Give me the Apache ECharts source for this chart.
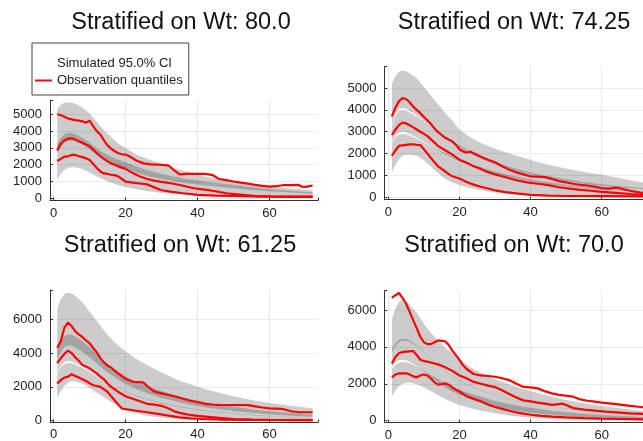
<!DOCTYPE html>
<html>
<head>
<meta charset="utf-8">
<script src="https://cdn.jsdelivr.net/npm/echarts@6/dist/echarts.min.js"></script>
<style>
  html, body { margin: 0; padding: 0; background: #ffffff; }
  #chart { width: 643px; height: 441px; }
</style>
</head>
<body>
<div id="chart"></div>
<script>
// Time points at which the simulated confidence bands are evaluated
const bandTimes = [1, 2, 3, 4, 5, 6, 8, 10, 12, 14, 16, 18, 20, 23, 26, 30, 34, 38, 42, 46, 50, 55, 60, 66, 72];

const panelTitles = ['Stratified on Wt: 80.0', 'Stratified on Wt: 74.25', 'Stratified on Wt: 61.25', 'Stratified on Wt: 70.0'];

// ---- Wt 80.0 ----
const wt80_p95Hi = [5300, 5550, 5680, 5720, 5700, 5620, 5400, 5050, 4550, 4050, 3650, 3250, 3000, 2600, 2350, 2050, 1780, 1520, 1300, 1120, 980, 840, 710, 580, 480];
const wt80_p95Lo = [2700, 3050, 3300, 3400, 3420, 3380, 3200, 2900, 2580, 2300, 2080, 1900, 1750, 1530, 1330, 1150, 1000, 870, 770, 690, 600, 500, 420, 340, 270];
const wt80_p50Hi = [3250, 3600, 3800, 3880, 3880, 3820, 3600, 3300, 2980, 2700, 2480, 2300, 2150, 1900, 1680, 1450, 1270, 1120, 1000, 900, 800, 680, 560, 450, 360];
const wt80_p50Lo = [2200, 2500, 2700, 2780, 2790, 2750, 2580, 2350, 2080, 1830, 1620, 1440, 1290, 1100, 950, 780, 640, 530, 440, 370, 310, 250, 200, 160, 130];
const wt80_p5Hi  = [2200, 2500, 2700, 2780, 2790, 2750, 2580, 2350, 2080, 1830, 1620, 1440, 1290, 1100, 950, 780, 640, 530, 440, 370, 310, 250, 200, 160, 130];
const wt80_p5Lo  = [1100, 1450, 1680, 1800, 1850, 1850, 1750, 1550, 1300, 1100, 930, 790, 680, 540, 430, 320, 250, 200, 160, 130, 110, 90, 75, 60, 50];
const wt80_obsP95 = [[1,5000],[2,4950],[3,4850],[4,4750],[5,4700],[6,4650],[7,4620],[8,4580],[9,4500],[10,4620],[11,4300],[12,4000],[13,3800],[14,3450],[15,3150],[16,2950],[17,2800],[18,2680],[19,2620],[20,2600],[21,2500],[22,2380],[23,2250],[25,2080],[27,2020],[29,2000],[31,1980],[32,1950],[33,1750],[35,1430],[37,1450],[40,1460],[42,1450],[44,1400],[46,1150],[48,1080],[50,1000],[52,930],[54,870],[56,800],[58,740],[60,700],[62,720],[64,790],[66,780],[68,800],[69,700],[70,680],[72,760]];
const wt80_obsP50 = [[1,2850],[2,3250],[3,3450],[4,3550],[5,3570],[6,3500],[7,3400],[8,3300],[9,3200],[10,3100],[11,2900],[12,2700],[13,2500],[14,2350],[15,2200],[16,2080],[17,2000],[18,1900],[20,1750],[22,1500],[24,1300],[26,1150],[28,1050],[30,980],[33,880],[36,750],[39,600],[42,520],[45,420],[48,300],[51,240],[54,180],[57,120],[60,100],[66,90],[72,80]];
const wt80_obsP5  = [[1,2220],[2,2350],[3,2480],[4,2500],[5,2580],[6,2580],[7,2500],[8,2450],[9,2380],[10,2280],[11,2050],[12,1800],[13,1600],[14,1480],[15,1450],[16,1400],[17,1380],[18,1300],[19,1150],[20,990],[22,930],[24,880],[26,830],[28,650],[30,480],[33,380],[36,300],[40,210],[45,160],[50,140],[55,120],[60,110],[72,100]];

// ---- Wt 74.25 ----
const wt74_p95Hi = [5200, 5550, 5750, 5800, 5770, 5680, 5450, 5050, 4650, 4250, 3850, 3500, 3100, 2750, 2480, 2220, 2000, 1810, 1620, 1460, 1320, 1160, 1030, 850, 670];
const wt74_p95Lo = [3300, 3800, 4050, 4080, 4050, 3950, 3750, 3500, 3250, 3000, 2750, 2520, 2300, 2000, 1780, 1500, 1300, 1120, 970, 850, 740, 620, 530, 440, 370];
const wt74_p50Hi = [3250, 3720, 3950, 3990, 3960, 3880, 3700, 3480, 3260, 3030, 2800, 2580, 2380, 2100, 1880, 1600, 1400, 1220, 1060, 940, 830, 700, 600, 500, 420];
const wt74_p50Lo = [2500, 2820, 2960, 2990, 2970, 2900, 2740, 2550, 2350, 2150, 1960, 1800, 1650, 1450, 1280, 1080, 920, 790, 680, 590, 510, 430, 360, 290, 240];
const wt74_p5Hi  = [2450, 2740, 2870, 2900, 2890, 2830, 2690, 2520, 2340, 2170, 2000, 1850, 1720, 1530, 1370, 1180, 1020, 880, 760, 660, 570, 480, 400, 320, 260];
const wt74_p5Lo  = [1150, 1500, 1750, 1900, 1950, 1950, 1900, 1700, 1400, 1100, 850, 680, 560, 420, 320, 220, 150, 110, 80, 60, 50, 40, 30, 25, 20];
const wt74_obsP95 = [[1,3700],[2,4100],[3,4400],[4,4540],[5,4500],[6,4350],[7,4150],[8,4000],[9,3850],[10,3680],[11,3520],[12,3350],[13,3150],[14,2980],[15,2850],[16,2720],[17,2640],[18,2550],[19,2400],[20,2200],[21,2100],[22,2050],[23,2090],[24,2020],[26,1860],[28,1720],[30,1600],[32,1420],[34,1260],[36,1140],[38,1050],[40,960],[42,940],[44,920],[46,840],[48,740],[50,680],[52,620],[54,570],[56,540],[58,490],[60,420],[62,400],[64,440],[66,380],[68,300],[70,240],[72,160]];
const wt74_obsP50 = [[1,2850],[2,3100],[3,3300],[4,3420],[5,3380],[6,3300],[7,3200],[8,3100],[9,3000],[10,2900],[11,2800],[12,2650],[13,2500],[14,2350],[15,2250],[16,2150],[17,2050],[18,1950],[20,1720],[22,1580],[24,1420],[26,1300],[28,1150],[30,1050],[33,920],[36,780],[39,680],[42,620],[45,560],[48,460],[51,400],[54,340],[57,300],[60,250],[64,200],[68,150],[72,110]];
const wt74_obsP5  = [[1,1900],[2,2150],[3,2350],[4,2380],[5,2400],[6,2420],[7,2420],[8,2400],[9,2390],[10,2200],[11,2000],[12,1800],[13,1600],[14,1420],[15,1300],[16,1180],[17,1060],[18,960],[20,860],[22,700],[24,580],[26,480],[28,400],[30,320],[33,240],[36,180],[40,110],[45,80],[50,60],[60,50],[72,40]];

// ---- Wt 61.25 ----
const wt61_p95Hi = [6600, 7200, 7500, 7580, 7520, 7380, 7000, 6450, 5900, 5350, 4850, 4450, 4100, 3650, 3300, 2850, 2450, 2150, 1880, 1650, 1450, 1230, 1050, 880, 740];
const wt61_p95Lo = [3600, 4050, 4350, 4450, 4430, 4330, 4080, 3750, 3380, 3020, 2700, 2420, 2170, 1870, 1620, 1350, 1130, 950, 800, 680, 580, 470, 380, 300, 240];
const wt61_p50Hi = [4200, 4700, 5000, 5100, 5080, 4980, 4700, 4350, 3950, 3550, 3200, 2900, 2620, 2300, 2050, 1750, 1500, 1280, 1100, 950, 820, 680, 560, 450, 370];
const wt61_p50Lo = [2900, 3250, 3450, 3520, 3500, 3420, 3200, 2950, 2650, 2380, 2120, 1900, 1700, 1450, 1250, 1020, 840, 700, 580, 490, 410, 330, 270, 210, 170];
const wt61_p5Hi  = [2850, 3180, 3360, 3420, 3400, 3330, 3130, 2900, 2620, 2370, 2130, 1920, 1730, 1490, 1290, 1060, 880, 730, 610, 510, 430, 350, 285, 225, 180];
const wt61_p5Lo  = [1350, 1750, 2050, 2250, 2330, 2330, 2200, 1950, 1650, 1380, 1100, 850, 650, 440, 300, 180, 110, 70, 50, 35, 25, 20, 15, 10, 10];
const wt61_obsP95 = [[1,4300],[2,4700],[3,5500],[4,5800],[5,5600],[6,5300],[7,5100],[8,4950],[9,4750],[10,4580],[11,4300],[12,4050],[13,3700],[14,3450],[15,3250],[16,3150],[17,2950],[18,2780],[20,2480],[22,2300],[24,2280],[25,2250],[26,2050],[28,1720],[30,1620],[32,1520],[34,1420],[36,1300],[38,1180],[40,1100],[42,1000],[44,960],[46,940],[50,930],[54,920],[56,850],[58,780],[60,730],[62,720],[64,680],[66,560],[68,500],[72,500]];
const wt61_obsP50 = [[1,3400],[2,3700],[3,3950],[4,4150],[5,4000],[6,3750],[7,3550],[8,3300],[9,3200],[10,3100],[11,2950],[12,2800],[13,2600],[14,2450],[15,2200],[16,2000],[17,1850],[18,1700],[20,1450],[22,1300],[24,1150],[26,1000],[28,950],[30,880],[32,720],[34,520],[36,420],[38,340],[40,290],[43,230],[46,170],[50,100],[55,60],[60,50],[72,40]];
const wt61_obsP5  = [[1,2200],[2,2400],[3,2550],[4,2600],[5,2750],[6,2650],[7,2550],[8,2450],[9,2350],[10,2220],[11,2100],[12,2050],[13,2000],[14,1850],[15,1700],[16,1450],[17,1200],[18,950],[19,720],[20,680],[23,590],[26,500],[29,400],[32,300],[35,200],[38,140],[41,100],[46,70],[55,50],[72,40]];

// ---- Wt 70.0 ----
const wt70_p95Hi = [5500, 6100, 6450, 6550, 6450, 6250, 5850, 5250, 4750, 4350, 3950, 3650, 3350, 2900, 2600, 2250, 1980, 1720, 1500, 1300, 1120, 950, 790, 640, 500];
const wt70_p95Lo = [3700, 4050, 4250, 4330, 4330, 4260, 4050, 3700, 3330, 2980, 2680, 2420, 2180, 1880, 1640, 1390, 1180, 1010, 870, 750, 650, 540, 450, 360, 290];
const wt70_p50Hi = [3850, 4200, 4380, 4440, 4430, 4350, 4100, 3720, 3340, 3000, 2700, 2440, 2200, 1900, 1650, 1400, 1190, 1020, 880, 760, 660, 550, 460, 370, 300];
const wt70_p50Lo = [2900, 3150, 3270, 3300, 3270, 3200, 2980, 2680, 2380, 2080, 1800, 1580, 1400, 1170, 970, 760, 600, 480, 390, 320, 260, 200, 160, 120, 90];
const wt70_p5Hi  = [2800, 3030, 3150, 3180, 3170, 3120, 2950, 2720, 2480, 2250, 2030, 1840, 1680, 1470, 1290, 1080, 900, 760, 640, 540, 460, 380, 310, 250, 200];
const wt70_p5Lo  = [1300, 1650, 1880, 2000, 2060, 2070, 1980, 1800, 1600, 1380, 1180, 1000, 850, 680, 540, 400, 280, 190, 130, 90, 70, 50, 40, 30, 25];
const wt70_obsP95 = [[1,6650],[2,6800],[3,6920],[4,6650],[5,6350],[6,5900],[7,5450],[8,5000],[9,4550],[10,4250],[11,4150],[12,4150],[13,4250],[14,4350],[15,4330],[16,4300],[17,4100],[18,3800],[19,3550],[20,3300],[21,3000],[22,2800],[24,2530],[26,2450],[28,2420],[30,2380],[32,2300],[34,2200],[36,2000],[38,1830],[40,1800],[42,1750],[44,1600],[46,1480],[48,1400],[50,1350],[52,1300],[54,1150],[56,1080],[58,1030],[60,980],[64,900],[68,800],[72,720]];
const wt70_obsP50 = [[1,3100],[2,3450],[3,3650],[4,3720],[5,3740],[6,3760],[7,3780],[8,3550],[9,3300],[10,3230],[11,3200],[12,3150],[13,3100],[14,3050],[15,2980],[16,2900],[18,2700],[20,2450],[22,2300],[24,2100],[26,2000],[28,1900],[30,1820],[32,1650],[34,1450],[36,1260],[38,1100],[40,1050],[42,980],[44,920],[46,860],[48,900],[49,920],[50,850],[52,680],[55,600],[58,540],[61,490],[65,440],[68,400],[72,360]];
const wt70_obsP5  = [[1,2350],[2,2500],[3,2560],[4,2560],[5,2570],[6,2500],[7,2400],[8,2350],[9,2450],[10,2500],[11,2450],[12,2280],[13,2080],[14,1950],[15,1980],[16,2020],[17,1950],[18,1800],[19,1680],[20,1580],[22,1330],[24,1180],[26,1050],[28,870],[30,740],[32,640],[34,540],[36,450],[38,380],[40,320],[43,260],[46,220],[50,180],[55,140],[60,110],[66,90],[72,70]];

const FONT = '"Liberation Sans", Arial, Helvetica, sans-serif';
const CI_NAME = 'Simulated 95.0% CI';
const OBS_NAME = 'Observation quantiles';
const BAND_FILL = 'rgba(0,0,0,0.2)';

const panels = [
  { title: panelTitles[0], bands: [[wt80_p95Lo, wt80_p95Hi], [wt80_p50Lo, wt80_p50Hi], [wt80_p5Lo, wt80_p5Hi]], obs: [wt80_obsP95, wt80_obsP50, wt80_obsP5] },
  { title: panelTitles[1], bands: [[wt74_p95Lo, wt74_p95Hi], [wt74_p50Lo, wt74_p50Hi], [wt74_p5Lo, wt74_p5Hi]], obs: [wt74_obsP95, wt74_obsP50, wt74_obsP5] },
  { title: panelTitles[2], bands: [[wt61_p95Lo, wt61_p95Hi], [wt61_p50Lo, wt61_p50Hi], [wt61_p5Lo, wt61_p5Hi]], obs: [wt61_obsP95, wt61_obsP50, wt61_obsP5] },
  { title: panelTitles[3], bands: [[wt70_p95Lo, wt70_p95Hi], [wt70_p50Lo, wt70_p50Hi], [wt70_p5Lo, wt70_p5Hi]], obs: [wt70_obsP95, wt70_obsP50, wt70_obsP5] }
];

// Plot-area geometry and axis extents for the 2x2 layout
const layout = [
  { left: 50,    top: 100,   width: 268,   height: 100.5, xMin: -1,   xMax: 73.5, yMin: -130, yMax: 5850, ySplit: 5, yStep: 1000, titleX: 181, titleY: 23 },
  { left: 384.4, top: 66.5,  width: 265.3, height: 133.2, xMin: -1.1, xMax: 73.5, yMin: -110, yMax: 5985, ySplit: 5, yStep: 1000, titleX: 514, titleY: 23 },
  { left: 50,    top: 290,   width: 268,   height: 132.4, xMin: -1,   xMax: 73.5, yMin: -100, yMax: 7730, ySplit: 4, yStep: 2000, titleX: 180, titleY: 245.5 },
  { left: 384.4, top: 290.6, width: 265.3, height: 132.1, xMin: -1.1, xMax: 73.5, yMin: -110, yMax: 7050, ySplit: 4, yStep: 2000, titleX: 514, titleY: 245.5 }
];

const axisLineStyle = { color: '#333333', width: 1 };
const gridLineStyle = { color: '#ebebeb', width: 1 };
const labelStyle = { fontFamily: FONT, fontSize: 13, color: '#222222' };

const grids = [], xAxes = [], yAxes = [], series = [], graphics = [];

layout.forEach((g, gi) => {
  grids.push({ left: g.left, top: g.top, width: g.width, height: g.height, containLabel: false, outerBoundsMode: 'none' });
  xAxes.push({
    type: 'value', gridIndex: gi, min: g.xMin, max: g.xMax, splitNumber: 4,
    axisLine: { show: true, onZero: false, lineStyle: axisLineStyle },
    axisTick: { show: true, inside: true, length: 3, lineStyle: axisLineStyle },
    axisLabel: Object.assign({ margin: 6, formatter: v => (v % 20 === 0 ? String(v) : '') }, labelStyle),
    splitLine: { show: true, lineStyle: gridLineStyle, showMinLine: false, showMaxLine: false }
  });
  yAxes.push({
    type: 'value', gridIndex: gi, min: g.yMin, max: g.yMax, splitNumber: g.ySplit,
    axisLine: { show: true, onZero: false, lineStyle: axisLineStyle },
    axisTick: { show: true, inside: true, length: 3, lineStyle: axisLineStyle },
    axisLabel: Object.assign({ margin: 8, formatter: v => (v % g.yStep === 0 ? String(v) : '') }, labelStyle),
    splitLine: { show: true, lineStyle: gridLineStyle, showMinLine: false, showMaxLine: false }
  });
  graphics.push({
    type: 'text', x: g.titleX, y: g.titleY, silent: true,
    style: {
      text: panels[gi].title, font: '23.5px ' + FONT, fill: '#111111',
      align: 'center', verticalAlign: 'middle', textAlign: 'center', textVerticalAlign: 'middle'
    }
  });
});

// One translucent polygon per confidence band: upper bound left-to-right,
// then lower bound right-to-left, placed through the grid's own axes.
function renderBand(params, api) {
  if (params.dataIndexInside !== 0) return null;
  const n = params.dataInsideLength;
  const upper = [], lower = [];
  for (let i = 0; i < n; i++) {
    const t = api.value(0, i);
    upper.push(api.coord([t, api.value(2, i)]));
    lower.push(api.coord([t, api.value(1, i)]));
  }
  return {
    type: 'polygon',
    shape: { points: upper.concat(lower.reverse()) },
    style: { fill: BAND_FILL, stroke: null }
  };
}

panels.forEach((p, gi) => {
  p.bands.forEach(([lo, hi]) => {
    series.push({
      type: 'custom', name: CI_NAME, xAxisIndex: gi, yAxisIndex: gi,
      data: bandTimes.map((t, i) => [t, lo[i], hi[i]]),
      encode: { x: 0, y: [1, 2] },
      renderItem: renderBand, clip: true, silent: true, z: 1,
      itemStyle: { color: BAND_FILL }
    });
  });
  p.obs.forEach(line => {
    series.push({
      type: 'line', name: OBS_NAME, xAxisIndex: gi, yAxisIndex: gi,
      data: line, symbol: 'none', silent: true, z: 3,
      lineStyle: { color: '#ff0000', width: 2.2 },
      itemStyle: { color: '#ff0000' }
    });
  });
});

const chart = echarts.init(document.getElementById('chart'), null, { renderer: 'canvas' });
chart.setOption({
  animation: false,
  backgroundColor: '#ffffff',
  grid: grids,
  xAxis: xAxes,
  yAxis: yAxes,
  series: series,
  graphic: graphics,
  legend: {
    orient: 'vertical', left: 32, top: 43,
    padding: [13, 6, 7, 3], itemGap: 2, itemWidth: 17, itemHeight: 2,
    backgroundColor: '#ffffff', borderColor: '#444444', borderWidth: 1, borderRadius: 0,
    selectedMode: false,
    textStyle: { fontFamily: FONT, fontSize: 13, color: '#222222', lineHeight: 15 },
    data: [
      { name: CI_NAME, icon: 'rect', itemStyle: { opacity: 0 } },
      { name: OBS_NAME, icon: 'rect', itemStyle: { color: '#ff0000' } }
    ]
  }
});
</script>
</body>
</html>
